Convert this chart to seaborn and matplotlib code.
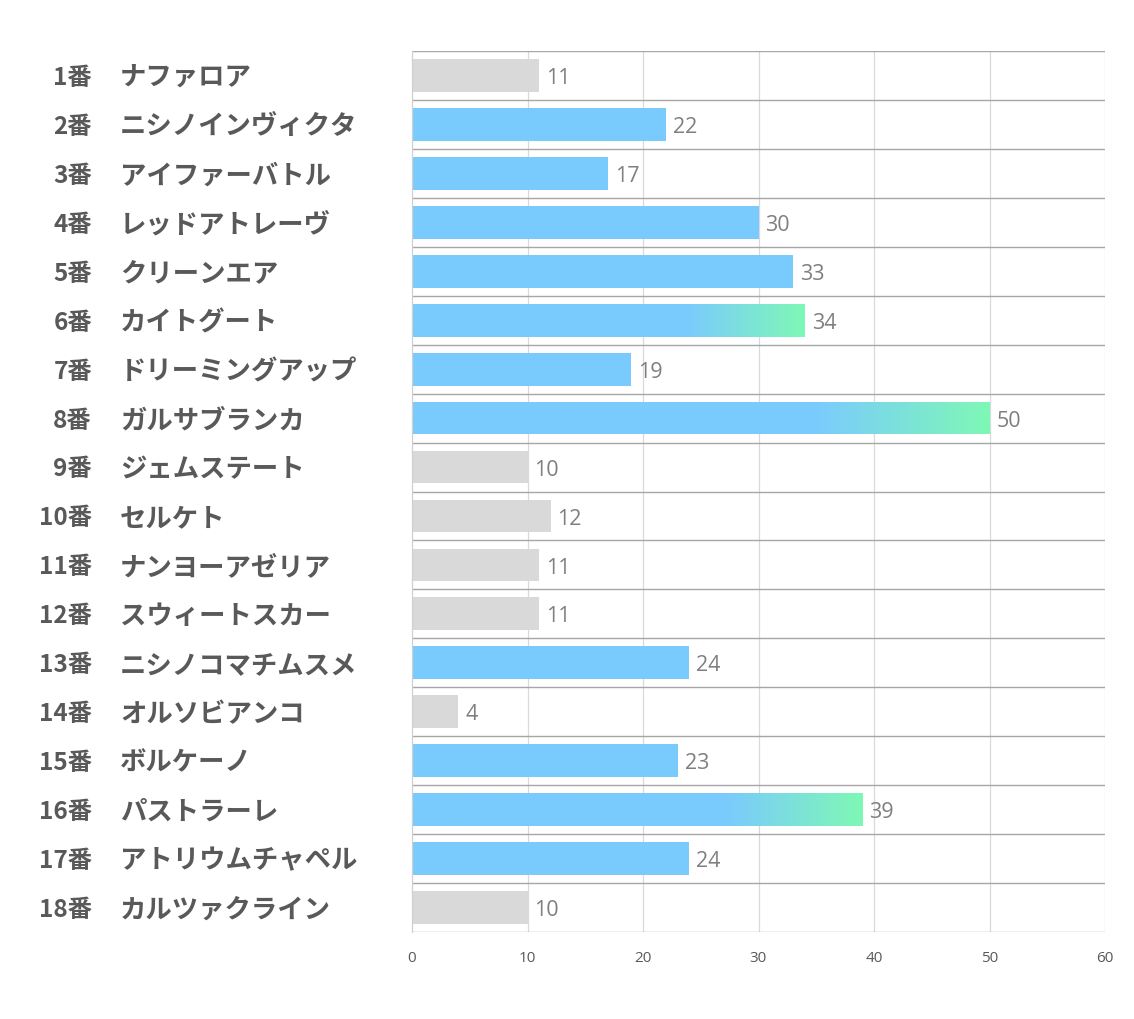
import numpy as np
import pandas as pd
import matplotlib
matplotlib.use("Agg")
import matplotlib.pyplot as plt
import matplotlib.transforms as mtransforms
from matplotlib.colors import LinearSegmentedColormap
import seaborn as sns

numbers = ["1番", "2番", "3番", "4番", "5番", "6番", "7番", "8番", "9番", "10番",
           "11番", "12番", "13番", "14番", "15番", "16番", "17番", "18番"]
names = ["ナファロア", "ニシノインヴィクタ", "アイファーバトル", "レッドアトレーヴ", "クリーンエア",
         "カイトグート", "ドリーミングアップ", "ガルサブランカ", "ジェムステート", "セルケト",
         "ナンヨーアゼリア", "スウィートスカー", "ニシノコマチムスメ", "オルソビアンコ", "ボルケーノ",
         "パストラーレ", "アトリウムチャペル", "カルツァクライン"]
values = [11, 22, 17, 30, 33, 34, 19, 50, 10, 12, 11, 11, 24, 4, 23, 39, 24, 10]
xticks = [0, 10, 20, 30, 40, 50, 60]

GRAY = "#D9D9D9"
BLUE = "#7ACBFD"
GREEN = "#7EF8B6"

sns.set_theme(style="white")
plt.rcParams["font.family"] = ["Noto Sans CJK JP", "DejaVu Sans"]

df = pd.DataFrame({"label": [f"{n} {m}" for n, m in zip(numbers, names)], "value": values})
top3 = sorted(values, reverse=True)[:3]
df["group"] = ["top" if v in top3 else ("low" if v <= 12 else "mid") for v in values]

fig = plt.figure(figsize=(11.34, 10.2), dpi=100)
ax = fig.add_axes([412 / 1134, 1 - 933 / 1020, (1105 - 412) / 1134, (933 - 52) / 1020])

sns.barplot(data=df, x="value", y="label", hue="group", order=df["label"],
            palette={"low": GRAY, "mid": BLUE, "top": BLUE}, width=0.67,
            dodge=False, legend=False, ax=ax, saturation=1, linewidth=0)

ax.set_xlim(0, 60)
ax.set_ylim(len(values) - 0.5, -0.5)

cmap = LinearSegmentedColormap.from_list("g", [(0, BLUE), (0.7, BLUE), (1.0, GREEN)])
grad = np.linspace(0, 1, 256).reshape(1, -1)
for p in ax.patches:
    w = p.get_width()
    if w in top3 and p.get_height() > 0:
        x0, y0, h = p.get_x(), p.get_y(), p.get_height()
        im = ax.imshow(grad, cmap=cmap, extent=[x0, x0 + w, y0 + h, y0],
                       aspect="auto", zorder=p.get_zorder() + 0.1, interpolation="bilinear")
        im.set_clip_path(p)
ax.set_xlim(0, 60)
ax.set_ylim(len(values) - 0.5, -0.5)
ax.set_aspect("auto")

# grid lines
for xv in xticks[1:]:
    ax.axvline(xv, color="#D9D9D9", lw=0.9, zorder=0)
for i in range(len(values) + 1):
    ax.axhline(i - 0.5, color="#A6A6A6", lw=1.0, zorder=0.5)

for s in ["top", "right", "bottom"]:
    ax.spines[s].set_visible(False)
ax.spines["left"].set_color("#D0D0D0")
ax.spines["left"].set_linewidth(0.9)

ax.set_xticks(xticks)
ax.set_xticklabels([str(t) for t in xticks], fontsize=11, color="#595959",
                   family=["Open Sans", "DejaVu Sans"])
ax.tick_params(axis="x", length=0, pad=13)
ax.set_yticks([])
ax.set_xlabel("")
ax.set_ylabel("")

# value labels
for i, v in enumerate(values):
    ax.annotate(str(v), (v, i), xytext=(5, -1.5), textcoords="offset points",
                va="center", ha="left", fontsize=15.5, color="#7F7F7F",
                family=["Open Sans", "DejaVu Sans"])

# category labels
trans = mtransforms.blended_transform_factory(fig.transFigure, ax.transData)
for i, (n, m) in enumerate(zip(numbers, names)):
    ax.text(92 / 1134, i + 0.03, n, transform=trans, ha="right", va="center",
            fontsize=17.5, fontweight="bold", color="#595959", clip_on=False)
    ax.text(120 / 1134, i + 0.03, m, transform=trans, ha="left", va="center",
            fontsize=19, fontweight="bold", color="#595959", clip_on=False)

fig.savefig("out.png", dpi=100, facecolor="white")
